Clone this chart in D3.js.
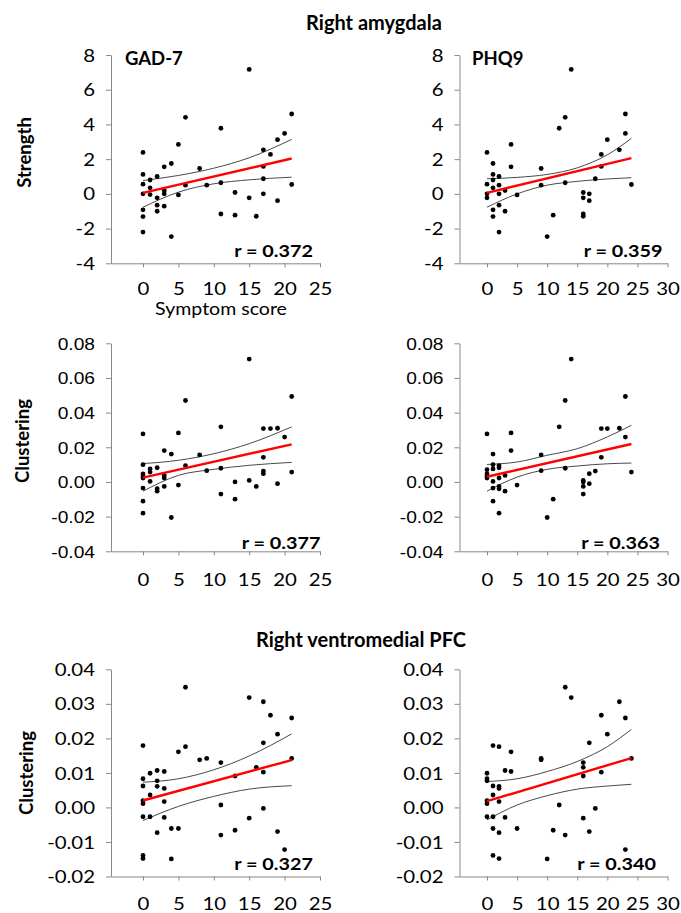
<!DOCTYPE html>
<html>
<head>
<meta charset="utf-8">
<script src="https://cdn.jsdelivr.net/npm/d3@7"></script>
<style>
	body { margin: 0; background: #fff; }
	text { font-family: Lato, "Open Sans", sans-serif; }
</style>
</head>
<body>
<svg width="681" height="913"></svg>
<script>
// ---- data: [symptom score, value] ----
const amyStrGad = [[0,2.39],[0,1.12],[0,0.56],[0,0],[0,-0.92],[0,-1.31],[0,-2.2],[1,0.8],[1,0.35],[1,-0.04],[2,1.0],[2,-0.23],[2,-0.65],[2,-1.0],[3,1.56],[3,0.19],[3,0],[3,-0.71],[4,1.75],[4,-2.46],[5,2.85],[5,-0.06],[6,4.41],[6,0.5],[8,1.46],[9,0.5],[11,3.78],[11,0.64],[11,-1.16],[13,0.08],[13,-1.23],[15,7.17],[15,-0.23],[16,-1.29],[17,2.54],[17,1.58],[17,0.87],[17,0],[18,2.27],[19,-0.39],[19,3.12],[20,3.48],[21,4.6],[21,0.54]];
const amyStrPhq = [[0,2.39],[0,0.56],[0,0],[0,-0.23],[1,1.75],[1,1.12],[1,0.8],[1,0.35],[1,-0.92],[1,-1.31],[2,1.0],[2,0.5],[2,0],[2,-0.65],[2,-2.2],[3,0.19],[3,-1.0],[4,2.85],[4,1.56],[5,-0.06],[9,1.46],[9,0.5],[10,-2.46],[11,-1.23],[12,3.78],[13,4.41],[13,0.64],[14,7.17],[16,0.08],[16,-0.23],[16,-1.16],[16,-1.29],[17,0],[17,-0.39],[18,0.87],[19,2.27],[19,1.58],[20,3.12],[22,2.54],[23,4.6],[23,3.48],[24,0.54]];
const amyCluGad = [[0,0.0277],[0,0.0100],[0,0.0046],[0,0.0034],[0,0.0023],[0,-0.0035],[0,-0.0111],[0,-0.0180],[1,0.0075],[1,0.0057],[1,0.0003],[2,0.0082],[2,-0.0039],[2,-0.0053],[3,0.0181],[3,0.0038],[3,0.0023],[3,-0.0026],[4,0.0161],[4,-0.0205],[5,0.0283],[5,-0.0018],[6,0.0470],[6,0.0094],[8,0.0156],[9,0.0065],[11,0.0318],[11,0.0079],[11,-0.0070],[13,0.0],[13,-0.0099],[15,0.0709],[15,0.0009],[16,-0.0026],[17,0.0308],[17,0.0142],[17,0.0063],[17,0.0048],[18,0.0308],[19,0.0310],[19,-0.0010],[20,0.0259],[21,0.0493],[21,0.0057]];
const amyCluPhq = [[0,0.0277],[0,0.0071],[0,0.0046],[0,0.0034],[0,0.0023],[1,0.0161],[1,0.0100],[1,0.0075],[1,0.0003],[1,-0.0035],[1,-0.0111],[2,0.0094],[2,0.0082],[2,0.0023],[2,-0.0026],[2,-0.0039],[2,-0.0180],[3,0.0038],[3,-0.0053],[4,0.0283],[4,0.0181],[5,-0.0018],[9,0.0156],[9,0.0065],[10,-0.0205],[11,-0.0099],[12,0.0318],[13,0.0470],[13,0.0079],[14,0.0709],[16,0.0009],[16,0.0],[16,-0.0026],[16,-0.0070],[17,0.0048],[17,-0.0010],[18,0.0063],[19,0.0308],[19,0.0142],[20,0.0308],[22,0.0310],[23,0.0493],[23,0.0259],[24,0.0057]];
const pfcCluGad = [[0,0.0179],[0,0.0083],[0,0.0062],[0,0.0020],[0,0.0011],[0,-0.0027],[0,-0.0139],[0,-0.0148],[1,0.0099],[1,0.0036],[1,-0.0027],[2,0.0107],[2,0.0077],[2,0.0061],[2,-0.0073],[3,0.0104],[3,0.0055],[3,0.0017],[3,-0.0029],[4,-0.0061],[4,-0.0149],[5,0.0161],[5,-0.0061],[6,0.0348],[6,0.0176],[8,0.0138],[9,0.0142],[11,0.0130],[11,0.0007],[11,-0.0080],[13,0.0091],[13,-0.0066],[15,0.0318],[15,-0.0031],[16,0.0116],[17,0.0306],[17,0.0187],[17,0.0102],[17,-0.0003],[18,0.0267],[19,0.0212],[19,-0.0070],[20,-0.0122],[21,0.0259],[21,0.0142]];
const pfcCluPhq = [[0,0.0099],[0,0.0083],[0,0.0077],[0,0.0020],[0,0.0011],[0,-0.0027],[1,0.0179],[1,0.0062],[1,0.0036],[1,-0.0027],[1,-0.0061],[1,-0.0139],[2,0.0176],[2,0.0061],[2,0.0055],[2,0.0017],[2,-0.0073],[2,-0.0148],[3,0.0107],[3,-0.0029],[4,0.0161],[4,0.0104],[5,-0.0061],[9,0.0142],[9,0.0138],[10,-0.0149],[11,-0.0066],[12,0.0007],[13,0.0348],[13,-0.0080],[14,0.0318],[16,0.0130],[16,0.0116],[16,0.0091],[16,-0.0031],[17,0.0187],[17,-0.0070],[18,-0.0003],[19,0.0267],[19,0.0102],[20,0.0212],[22,0.0306],[23,0.0259],[23,-0.0122],[24,0.0142]];

// fitted line (red) and 95% bands
const amyStrGadFit = [[0,0.06],[21,2.04]];
const amyStrGadUp = [[0,0.77],[5,1.06],[10,1.48],[15,2.08],[21,3.14]];
const amyStrGadLo = [[0,-0.77],[5,0.1],[10,0.58],[15,0.81],[21,0.96]];
const amyStrPhqFit = [[0,0.06],[24,2.06]];
const amyStrPhqUp = [[0,0.87],[5,0.95],[10,1.12],[15,1.5],[20,2.25],[24,3.2]];
const amyStrPhqLo = [[0,-0.77],[5,0.0],[10,0.5],[15,0.72],[20,0.86],[24,0.93]];
const amyCluGadFit = [[0,0.0025],[21,0.0217]];
const amyCluGadUp = [[0,0.0106],[5,0.0125],[10,0.0163],[15,0.0221],[21,0.0318]];
const amyCluGadLo = [[0,-0.0053],[5,0.0038],[10,0.0073],[15,0.0096],[21,0.0113]];
const amyCluPhqFit = [[0,0.0030],[24,0.0219]];
const amyCluPhqUp = [[0,0.0101],[5,0.0115],[10,0.0154],[15,0.0192],[20,0.0260],[24,0.0327]];
const amyCluPhqLo = [[0,-0.0053],[5,0.0028],[10,0.0073],[15,0.0092],[20,0.0105],[24,0.0109]];
const pfcCluGadFit = [[0,0.0020],[21,0.0137]];
const pfcCluGadUp = [[0,0.0073],[5,0.0083],[10,0.0109],[15,0.0149],[21,0.0213]];
const pfcCluGadLo = [[0,-0.0038],[5,0.0003],[10,0.0032],[15,0.0053],[21,0.0063]];
const pfcCluPhqFit = [[0,0.0018],[24,0.0143]];
const pfcCluPhqUp = [[0,0.0075],[5,0.0083],[10,0.0104],[15,0.0133],[20,0.0176],[24,0.0226]];
const pfcCluPhqLo = [[0,-0.0036],[5,0.0007],[10,0.0034],[15,0.0053],[20,0.0062],[24,0.0067]];

const rValues = ["r = 0.372", "r = 0.359", "r = 0.377", "r = 0.363", "r = 0.327", "r = 0.340"];
const gadTicks = [0, 5, 10, 15, 20, 25];
const phqTicks = [0, 5, 10, 15, 20, 25, 30];
const strengthTicks = [-4, -2, 0, 2, 4, 6, 8];
const amyCluTicks = [-0.04, -0.02, 0, 0.02, 0.04, 0.06, 0.08];
const pfcCluTicks = [-0.02, -0.01, 0, 0.01, 0.02, 0.03, 0.04];

// ---- layout ----
const SX = 1.2; // the figure's axis text is stretched sideways
const cols = [
	{ axisX: 111, x0: 143, xEnd: 320, xMax: 25, ticks: gadTicks },
	{ axisX: 459.5, x0: 487, xEnd: 667.5, xMax: 30, ticks: phqTicks },
];
const rows = [
	{ top: 55, bottom: 263.3, ticks: strengthTicks, fmt: (d) => String(d), yFont: "Lato", ySize: "17px", xPad: 25.7, title: "Strength", titleX: 25, titleY: 152.5, rY: 251.7 },
	{ top: 343.3, bottom: 551.3, ticks: amyCluTicks, fmt: (d) => d.toFixed(2), yFont: "'Liberation Sans'", ySize: "16px", xPad: 28.3, title: "Clustering", titleX: 23, titleY: 441, rY: 543 },
	{ top: 669.3, bottom: 876.5, ticks: pfcCluTicks, fmt: (d) => d.toFixed(2), yFont: "Lato", ySize: "17px", xPad: 27.3, title: "Clustering", titleX: 27, titleY: 773, rY: 864 },
];

const panels = [
	{ row: 0, col: 0, pts: amyStrGad, fit: amyStrGadFit, up: amyStrGadUp, lo: amyStrGadLo, r: rValues[0], rX: 313, label: "GAD-7" },
	{ row: 0, col: 1, pts: amyStrPhq, fit: amyStrPhqFit, up: amyStrPhqUp, lo: amyStrPhqLo, r: rValues[1], rX: 662.5, label: "PHQ9" },
	{ row: 1, col: 0, pts: amyCluGad, fit: amyCluGadFit, up: amyCluGadUp, lo: amyCluGadLo, r: rValues[2], rX: 320.5 },
	{ row: 1, col: 1, pts: amyCluPhq, fit: amyCluPhqFit, up: amyCluPhqUp, lo: amyCluPhqLo, r: rValues[3], rX: 660 },
	{ row: 2, col: 0, pts: pfcCluGad, fit: pfcCluGadFit, up: pfcCluGadUp, lo: pfcCluGadLo, r: rValues[4], rX: 313 },
	{ row: 2, col: 1, pts: pfcCluPhq, fit: pfcCluPhqFit, up: pfcCluPhqUp, lo: pfcCluPhqLo, r: rValues[5], rX: 656 },
];

const svg = d3.select("svg");
const axisColor = "#888";

function drawPanel(p) {
	const c = cols[p.col];
	const rw = rows[p.row];
	const x = d3.scaleLinear().domain([0, c.xMax]).range([c.x0, c.xEnd]);
	// axis line starts where the y axis sits
	x.domain([x.invert(c.axisX), c.xMax]).range([c.axisX, c.xEnd]);
	const y = d3
		.scaleLinear()
		.domain([rw.ticks[0], rw.ticks[rw.ticks.length - 1]])
		.range([rw.bottom, rw.top]);

	const g = svg.append("g").attr("class", "panel");

	// y axis
	const ya = g
		.append("g")
		.attr("transform", "translate(" + c.axisX + ",0)")
		.call(d3.axisLeft(y).tickValues(rw.ticks).tickFormat(rw.fmt).tickSize(5).tickSizeOuter(0).tickPadding(11));
	ya.selectAll("path,line").attr("stroke", axisColor);
	ya.selectAll("text")
		.attr("x", -16 / SX)
		.attr("dy", "0.36em")
		.attr("transform", "scale(" + SX + ",1)")
		.attr("fill", "#000")
		.style("font-family", rw.yFont)
		.style("font-size", rw.ySize);

	// x axis
	const xa = g
		.append("g")
		.attr("transform", "translate(0," + rw.bottom + ")")
		.call(d3.axisBottom(x).tickValues(c.ticks).tickSize(4).tickSizeOuter(0));
	xa.selectAll("path,line").attr("stroke", axisColor);
	xa.selectAll("text")
		.attr("y", rw.xPad)
		.attr("dy", "0.36em")
		.attr("transform", "scale(" + SX + ",1)")
		.attr("fill", "#000")
		.style("font-size", "17px");

	// confidence bands
	const line = d3
		.line()
		.x((d) => x(d[0]))
		.y((d) => y(d[1]))
		.curve(d3.curveMonotoneX);
	[p.up, p.lo].forEach((band) => {
		g.append("path")
			.attr("d", line(band))
			.attr("fill", "none")
			.attr("stroke", "#333")
			.attr("stroke-width", 0.9);
	});

	// points
	g.append("g")
		.selectAll("circle")
		.data(p.pts)
		.join("circle")
		.attr("cx", (d) => x(d[0]))
		.attr("cy", (d) => y(d[1]))
		.attr("r", 2.4)
		.attr("fill", "#000");

	// regression line
	g.append("path")
		.attr("d", d3.line().x((d) => x(d[0])).y((d) => y(d[1]))(p.fit))
		.attr("fill", "none")
		.attr("stroke", "#ff0000")
		.attr("stroke-width", 2.4);

	// r label
	g.append("text")
		.attr("transform", "translate(" + p.rX + "," + rw.rY + ") scale(1.2,1)")
		.attr("text-anchor", "end")
		.attr("dy", "0.35em")
		.attr("font-weight", "bold")
		.style("font-size", "16.5px")
		.attr("fill", "#000")
		.text(p.r);

	if (p.label) {
		g.append("text")
			.attr("x", c.axisX + (p.col === 0 ? 14 : 12.5))
			.attr("y", 58.5)
			.attr("dy", "0.35em")
			.attr("font-weight", "bold")
			.style("font-size", "18.5px")
			.attr("fill", "#000")
			.text(p.label);
	}
}

panels.forEach(drawPanel);

// row titles (y axis)
rows.forEach((rw) => {
	svg.append("text")
		.attr("transform", "translate(" + rw.titleX + "," + rw.titleY + ") rotate(-90)")
		.attr("text-anchor", "middle")
		.attr("dy", "0.35em")
		.attr("font-weight", "bold")
		.style("font-size", "18.5px")
		.attr("fill", "#000")
		.text(rw.title);
});

// section titles
svg.append("text")
	.attr("x", 374)
	.attr("y", 22.7)
	.attr("dy", "0.35em")
	.attr("text-anchor", "middle")
	.attr("font-weight", "bold")
	.style("font-size", "20px")
	.attr("fill", "#000")
	.text("Right amygdala");
svg.append("text")
	.attr("x", 361)
	.attr("y", 640)
	.attr("dy", "0.35em")
	.attr("text-anchor", "middle")
	.attr("font-weight", "bold")
	.style("font-size", "20px")
	.attr("fill", "#000")
	.text("Right ventromedial PFC");

// x axis caption under the first panel
svg.append("text")
	.attr("transform", "translate(221,309) scale(1.15,1)")
	.attr("text-anchor", "middle")
	.attr("dy", "0.35em")
	.style("font-size", "17px")
	.attr("fill", "#000")
	.text("Symptom score");
</script>
</body>
</html>
